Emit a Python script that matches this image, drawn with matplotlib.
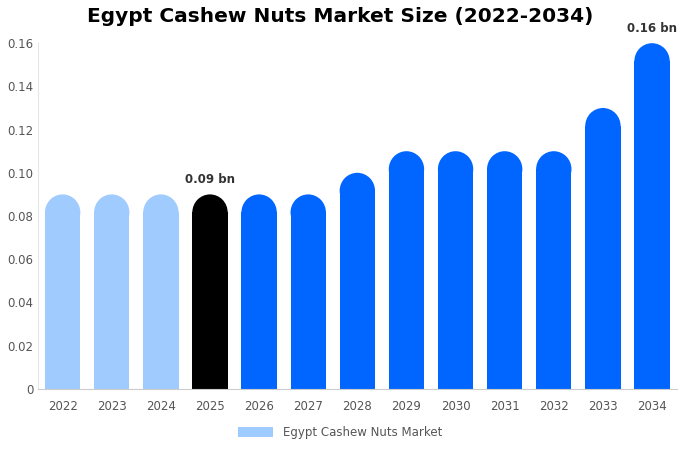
import matplotlib
matplotlib.use("Agg")
import matplotlib.pyplot as plt
from matplotlib.patches import Ellipse, Rectangle

years = ["2022", "2023", "2024", "2025", "2026", "2027", "2028",
         "2029", "2030", "2031", "2032", "2033", "2034"]
values = [0.09, 0.09, 0.09, 0.09, 0.09, 0.09, 0.10,
          0.11, 0.11, 0.11, 0.11, 0.13, 0.16]
colors = ["#a0cbff"] * 3 + ["#000000"] + ["#0066ff"] * 9
annotations = {3: "0.09 bn", 12: "0.16 bn"}

fig = plt.figure(figsize=(6.8, 4.5), dpi=100)
ax = fig.add_axes([0.056, 0.136, 0.939, 0.768])
ax.set_xlim(-0.5, 12.5)
ax.set_ylim(0, 0.16)

# rounded-top radius, converted from pixels to data units
width = 0.72
ax_h_px = 0.768 * 450
r = 18 / ax_h_px * 0.16

for i, (v, c) in enumerate(zip(values, colors)):
    ax.add_patch(Rectangle((i - width / 2, 0), width, v - r, facecolor=c, edgecolor="none"))
    ax.add_patch(Ellipse((i, v - r), width, 2 * r, facecolor=c, edgecolor="none"))
    if i in annotations:
        ax.text(i, v + 0.004, annotations[i], ha="center", va="bottom",
                fontsize=8.5, fontweight="bold", color="#333333")

ax.set_xticks(range(len(years)))
ax.set_xticklabels(years)
ax.set_yticks([0, 0.02, 0.04, 0.06, 0.08, 0.10, 0.12, 0.14, 0.16])
ax.set_yticklabels(["0", "0.02", "0.04", "0.06", "0.08", "0.10", "0.12", "0.14", "0.16"])
ax.tick_params(axis="both", length=0, labelsize=8.5, colors="#555555")
ax.tick_params(axis="x", pad=8)
for s in ["top", "right"]:
    ax.spines[s].set_visible(False)
ax.spines["left"].set_color("#e6e6e6")
ax.spines["bottom"].set_color("#cccccc")

fig.suptitle("Egypt Cashew Nuts Market Size (2022-2034)", fontsize=14.5,
             fontweight="bold", y=0.985)

handle = Rectangle((0, 0), 1, 1, facecolor="#a0cbff")
fig.legend([handle], ["Egypt Cashew Nuts Market"], loc="lower center",
           bbox_to_anchor=(0.5, 0.0), frameon=False, fontsize=8.5,
           labelcolor="#555555", handlelength=3, handleheight=0.9)

fig.savefig("out.png", dpi=100, facecolor="white")
